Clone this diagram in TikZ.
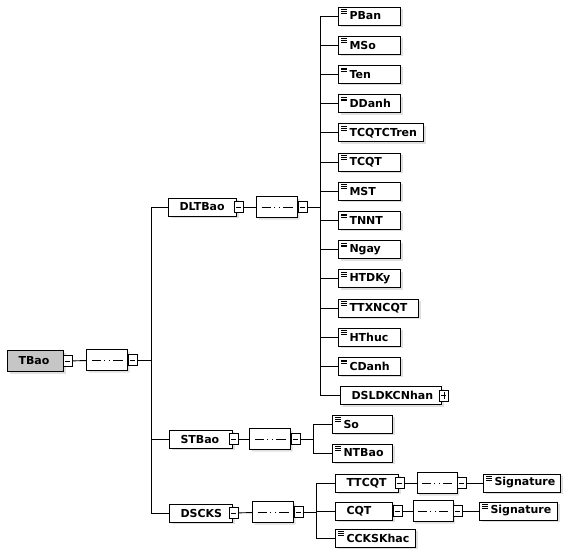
\documentclass[tikz,border=0pt]{standalone}
\usepackage{fontspec}
\setmainfont{DejaVu Sans}
\usetikzlibrary{shapes.misc,shadows}
\newcommand\boxtext[2]{\makebox[#1pt][l]{\hspace{11pt}#2}}
\tikzset{
	elem/.style={draw, fill=white, line width=1pt, inner sep=0, minimum height=18pt, anchor=west,
		drop shadow={shadow xshift=2pt, shadow yshift=-2pt, fill=gray!60, opacity=.4}},
	leaf/.style={elem, path picture={
		\foreach \k in {2.5,4.3,6.1}
			\draw[line width=.6pt] ([shift={(2.5pt,-\k pt)}]path picture bounding box.north west) -- ++(5.5pt,0);}},
	seq/.style={draw, fill=white, line width=1pt, chamfered rectangle, chamfered rectangle xsep=5pt,
		minimum width=41pt, minimum height=21pt, inner sep=0,
		drop shadow={shadow xshift=2pt, shadow yshift=-2pt, fill=gray!60, opacity=.4},
		path picture={
			\draw[line width=.8pt] ([xshift=5pt]path picture bounding box.west) -- ([xshift=-5pt]path picture bounding box.east);
			\foreach \d in {-4.5,0,4.5}
				\fill ([xshift=\d pt]path picture bounding box.center) +(-1.6pt,-1.6pt) rectangle +(1.6pt,1.6pt);}},
	tog/.style={draw, fill=white, line width=.8pt, minimum width=9pt, minimum height=11pt, inner sep=0, anchor=west,
		path picture={\draw ([xshift=2pt]path picture bounding box.west) -- ([xshift=-2pt]path picture bounding box.east);}},
	plus/.style={tog, path picture={
		\draw ([xshift=2pt]path picture bounding box.west) -- ([xshift=-2pt]path picture bounding box.east);
		\draw ([yshift=2pt]path picture bounding box.south) -- ([yshift=-2pt]path picture bounding box.north);}},
	wire/.style={line width=.9pt}
}
\begin{document}
\begin{tikzpicture}[x=1pt, y=-1pt, font=\fontsize{11}{13}\selectfont\bfseries]
		\useasboundingbox (0,0) rectangle (573,554);
		% root
		\node[elem, fill=gray!45, minimum height=21pt] (tbao) at (7,361) {\boxtext{56}{TBao}};
		\node[tog, xshift=-1pt] (tbaom) at (tbao.east) {};
		\node[seq] (seq0) at (107,360) {};
		\node[tog, xshift=-.5pt] (seq0m) at (seq0.east) {};
		\draw[wire] (tbaom) -- (seq0);
		\coordinate (T0) at (151,0);
		% DLTBao
		\node[elem] (dltbao) at (168,207) {\boxtext{68}{DLTBao}};
		\node[tog, xshift=-3pt] (dltbaom) at (dltbao.east) {};
		\node[seq] (seq1) at (277,207) {};
		\node[tog, xshift=-.5pt] (seq1m) at (seq1.east) {};
		\draw[wire] (dltbaom) -- (seq1);
		\coordinate (T1) at (320,0);
		\def\fields{PBan/62, MSo/62, Ten/62, DDanh/62, TCQTCTren/85, TCQT/62, MST/62,
			TNNT/62, Ngay/62, HTDKy/62, TTXNCQT/80, HThuc/62, CDanh/62}
		\foreach \t/\w [count = \i] in \fields{
			\node[leaf] (F\i) at (338, {16 + 29.2*(\i - 1)}) {\boxtext{\w}{\t}};
			\draw[wire] (T1 |- F\i.west) -- (F\i.west);
		}
		\node[elem] (F14) at (340,395.6) {\boxtext{101}{DSLDKCNhan}};
		\node[plus, xshift=-3pt] (F14p) at (F14.east) {};
		\draw[wire] (T1 |- F14.west) -- (F14.west);
		\draw[wire] (T1 |- F1.west) -- (T1 |- F14.west);
		\draw[wire] (seq1m.east) -- (seq1m.east -| T1);
		% STBao
		\node[elem] (stbao) at (169,439) {\boxtext{63}{STBao}};
		\node[tog, xshift=-4pt] (stbaom) at (stbao.east) {};
		\node[seq] (seq2) at (270,439) {};
		\node[tog, xshift=-.5pt] (seq2m) at (seq2.east) {};
		\draw[wire] (stbaom) -- (seq2);
		\coordinate (T2) at (313,0);
		\node[leaf] (so) at (332,424) {\boxtext{60}{So}};
		\node[leaf] (ntbao) at (332,453) {\boxtext{60}{NTBao}};
		\draw[wire] (seq2m.east) -- (seq2m.east -| T2);
		\draw[wire] (so.west) -| (T2 |- ntbao.west) -- (ntbao.west);
		% DSCKS
		\node[elem] (dscks) at (169,513) {\boxtext{63}{DSCKS}};
		\node[tog, xshift=-4pt] (dscksm) at (dscks.east) {};
		\node[seq] (seq3) at (273,512) {};
		\node[tog, xshift=-.5pt] (seq3m) at (seq3.east) {};
		\draw[wire] (dscksm) -- (seq3);
		\coordinate (T3) at (316,0);
		\node[elem] (ttcqt) at (335,483) {\boxtext{63}{TTCQT}};
		\node[tog, xshift=-4pt] (ttcqtm) at (ttcqt.east) {};
		\node[seq, minimum width=40pt] (seq4) at (437,483) {};
		\node[tog, xshift=-.5pt] (seq4m) at (seq4.east) {};
		\node[leaf] (sig1) at (483,483) {\boxtext{77}{Signature}};
		\draw[wire] (ttcqtm) -- (seq4);
		\draw[wire] (seq4m) -- (sig1);
		\node[elem] (cqt) at (335,511) {\boxtext{57}{CQT}};
		\node[tog] (cqtm) at (cqt.east) {};
		\node[seq, minimum width=40pt] (seq5) at (433,511) {};
		\node[tog, xshift=-.5pt] (seq5m) at (seq5.east) {};
		\node[leaf] (sig2) at (479,511) {\boxtext{78}{Signature}};
		\draw[wire] (cqtm) -- (seq5);
		\draw[wire] (seq5m) -- (sig2);
		\node[leaf] (ccks) at (335,538) {\boxtext{80}{CCKSKhac}};
		\draw[wire] (seq3m.east) -- (seq3m.east -| T3);
		\draw[wire] (ttcqt.west) -| (T3 |- ccks.west) -- (ccks.west);
		\draw[wire] (T3 |- cqt.west) -- (cqt.west);
		% trunk
		\draw[wire] (seq0m.east) -- (seq0m.east -| T0);
		\draw[wire] (dltbao.west) -| (T0 |- dscks.west) -- (dscks.west);
		\draw[wire] (T0 |- stbao.west) -- (stbao.west);
	\end{tikzpicture}
\end{document}
